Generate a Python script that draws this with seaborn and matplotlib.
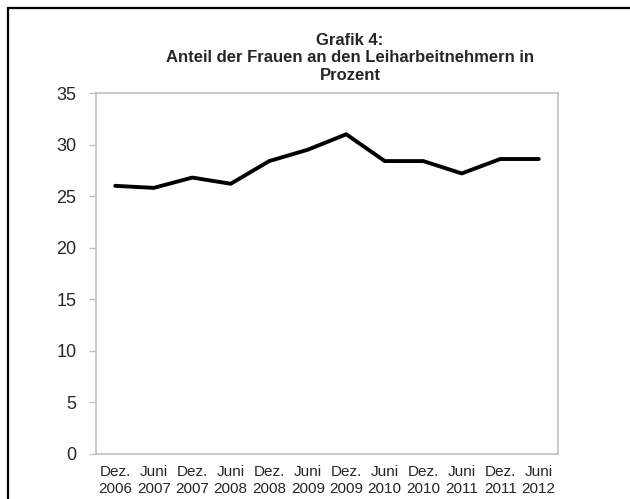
import numpy as np
import pandas as pd
import matplotlib
matplotlib.use("Agg")
import matplotlib.pyplot as plt
from matplotlib.patches import Rectangle
import seaborn as sns

OUT_PATH = "out.png"

# values
periods = ["Dez.\n2006", "Juni\n2007", "Dez.\n2007", "Juni\n2008", "Dez.\n2008", "Juni\n2009",
           "Dez.\n2009", "Juni\n2010", "Dez.\n2010", "Juni\n2011", "Dez.\n2011", "Juni\n2012"]
share_women = [26.0, 25.8, 26.8, 26.2, 28.4, 29.5, 31.0, 28.4, 28.4, 27.2, 28.6, 28.6]
y_ticks = [0, 5, 10, 15, 20, 25, 30, 35]
title_lines = ["Grafik 4:", "Anteil der Frauen an den Leiharbeitnehmern in", "Prozent"]

df = pd.DataFrame({"period": periods, "share": share_women})
df["pos"] = np.arange(len(df))

sns.set_style("white")
plt.rcParams["font.family"] = ["Liberation Sans", "DejaVu Sans"]

GRAY = "#c0c0c0"

fig = plt.figure(figsize=(6.3, 4.99), dpi=100)
ax = fig.add_axes([96 / 630, 1 - 454 / 499, 462 / 630, 361 / 499])

sns.lineplot(data=df, x="pos", y="share", color="black", linewidth=2.8, ax=ax)

ax.set_xlim(-0.5, len(df) - 0.5)
ax.set_ylim(0, 35)
ax.set_yticks(y_ticks)
ax.set_yticklabels([str(v) for v in y_ticks], fontsize=13)
ax.set_xticks(df["pos"])
ax.set_xticklabels(periods, fontsize=11, linespacing=1.3)
ax.set_xticks(np.arange(-0.5, len(df), 1.0), minor=True)
ax.tick_params(axis="x", which="major", length=0, pad=8)
ax.tick_params(axis="x", which="minor", length=5, width=1, color=GRAY, direction="out")
ax.tick_params(axis="y", length=5, width=1, color=GRAY, direction="out", pad=9, left=True)
ax.set_xlabel("")
ax.set_ylabel("")
ax.grid(False)
for s in ax.spines.values():
    s.set_visible(True)
    s.set_color(GRAY)
    s.set_linewidth(1.2)

# title, one line at a time (baseline positions in pixels)
for line, ypix in zip(title_lines, [45, 62, 80]):
    fig.text(350 / 630, 1 - ypix / 499, line, ha="center", va="baseline",
             fontsize=12, fontweight="bold")

# outer chart border (runs off the right and bottom edge)
fig.patches.append(Rectangle((8 / 630, -0.1), 1.2, 1.1 - 8 / 499, transform=fig.transFigure,
                             fill=False, edgecolor="black", linewidth=1.6, clip_on=False))

fig.savefig(OUT_PATH, dpi=100)
plt.close(fig)
